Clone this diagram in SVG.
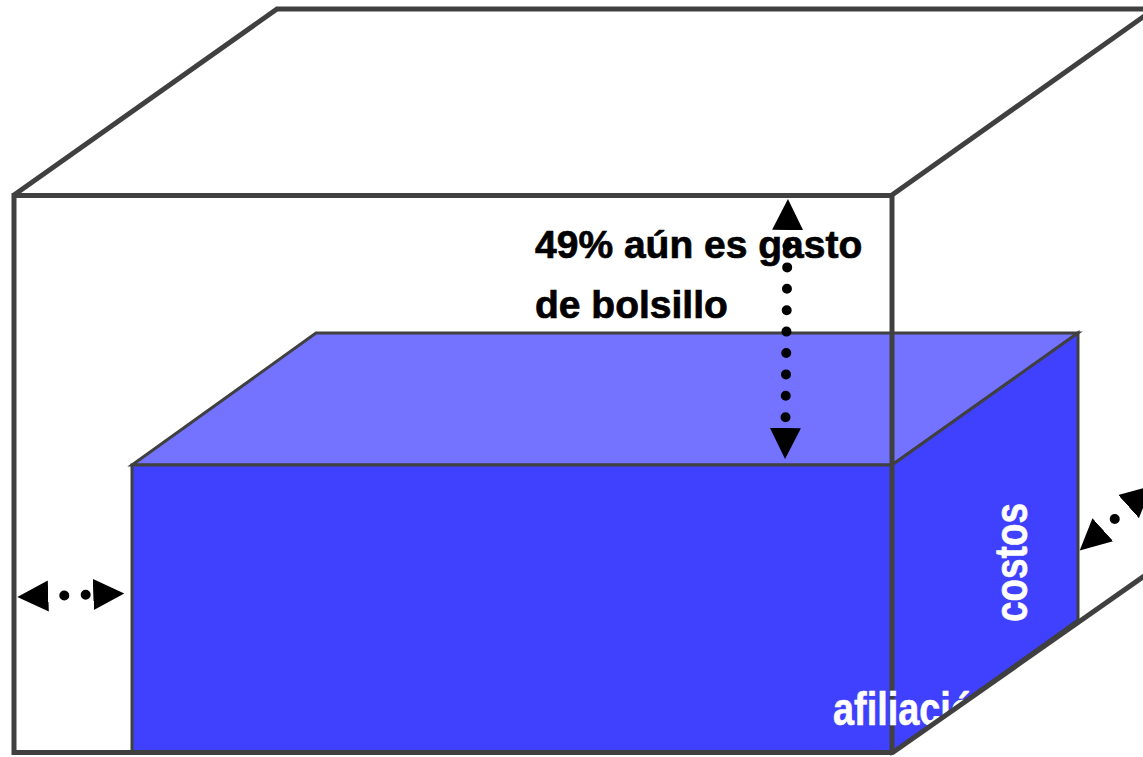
<svg xmlns="http://www.w3.org/2000/svg" width="1143" height="757" viewBox="0 0 1143 757">
<style>
.edge{fill:none;stroke:#404040;stroke-width:5;stroke-linejoin:miter}
.blue{stroke:#404040;stroke-width:3;stroke-linejoin:miter}
.front{fill:#4040FF}
.top{fill:#7373FF}
.lbl{font-family:"Liberation Sans",Arial,sans-serif;font-weight:bold}
.white{fill:#FFFFFF;stroke:#FFFFFF;stroke-width:0.6;font-size:46px}
.black{fill:#000000;stroke:#000000;stroke-width:0.7;font-size:39px}
.dots{stroke:#000;stroke-width:10;stroke-linecap:round;stroke-dasharray:0 21.4;stroke-dashoffset:5.4;fill:none;marker-start:url(#head);marker-end:url(#head)}
</style>
<defs>
<marker id="head" markerUnits="userSpaceOnUse" viewBox="0 -16 32 32" markerWidth="32" markerHeight="32" refX="0" refY="0" orient="auto-start-reverse">
<path d="M0,-15.5 L31,0 L0,15.5 Z" fill="#000"/>
</marker>
</defs>
<rect width="1143" height="757" fill="#FFFFFF"/>
<g id="outer-box-back">
<polyline class="edge" points="14,195 277,9 1160,9"/>
<line class="edge" x1="892" y1="195" x2="1160" y2="5"/>
</g>
<g id="inner-box">
<polygon class="blue top" points="132,465 316,333 1078,333 892,465"/>
<polygon class="blue front" points="892,465 1078,333 1078,620 892,753"/>
<rect class="blue front" x="132" y="465" width="760" height="288"/>
</g>
<g id="outer-box-front">
<rect class="edge" x="14" y="195.5" width="878" height="557"/>
</g>
<g id="labels-inner">
<text class="lbl white" transform="translate(1027,622) rotate(-90)" textLength="119" lengthAdjust="spacingAndGlyphs">costos</text>
<text class="lbl white" x="833" y="725" textLength="164" lengthAdjust="spacingAndGlyphs">afiliación</text>
</g>
<g id="outer-box-depth">
<polygon points="893,754 1160,565 1160,760 893,760" fill="#FFFFFF"/>
<line class="edge" x1="892" y1="753" x2="1160" y2="565"/>
</g>
<g id="connectors">
<line class="dots" x1="787.6" y1="230" x2="785.4" y2="428"/>
<line class="dots" x1="48.3" y1="596" x2="93.3" y2="594.5"/>
<line class="dots" x1="1102.8" y1="529.7" x2="1128.6" y2="506.6"/>
</g>
<g id="label-top">
<text class="lbl black" x="535" y="258">49% aún es gasto</text>
<text class="lbl black" x="535" y="318">de bolsillo</text>
</g>
</svg>
